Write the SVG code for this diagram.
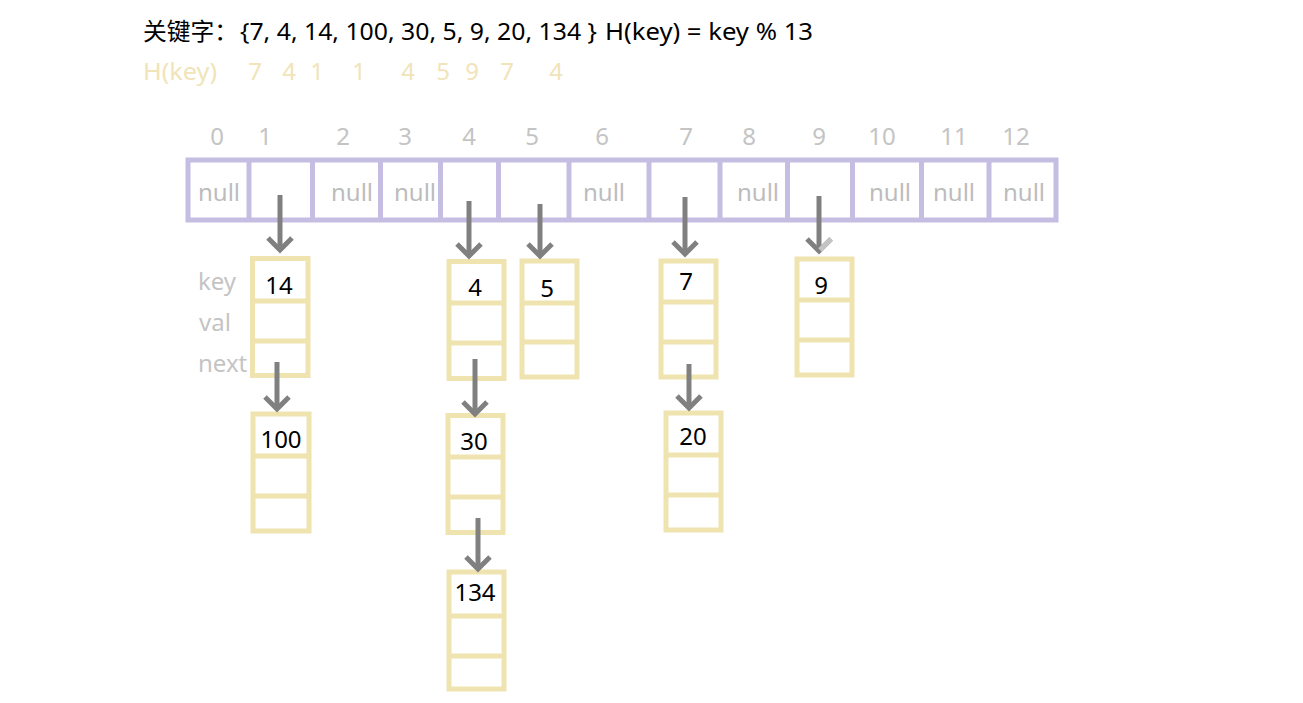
<svg xmlns="http://www.w3.org/2000/svg" width="1303" height="703" viewBox="0 0 1303 703">
<style>
text{font-family:"Noto Sans","Noto Sans CJK SC",sans-serif;font-size:24px}
.title{fill:#000}
.hk{fill:#f0e4b8}
.idx{fill:#c4c4c4;text-anchor:middle}
.nul{fill:#bcbcbc;text-anchor:middle}
.lbl{fill:#c4c4c4}
.cellbox{fill:none;stroke:#c6bde3;stroke-width:5}
.node{fill:#fff;stroke:#efe3b0;stroke-width:5}
.key{fill:#000;text-anchor:middle}
.edge{fill:none;stroke:#808080;stroke-width:5;marker-end:url(#chev)}
</style>
<defs>
<marker id="chev" viewBox="-16 -16 32 32" markerWidth="32" markerHeight="32" refX="0" refY="0" orient="auto" markerUnits="userSpaceOnUse">
<path d="M-12,-12 L0,0 L-12,12" fill="none" stroke="#808080" stroke-width="5" stroke-linejoin="miter"/>
</marker>
</defs>
<rect width="1303" height="703" fill="#fff"/>
<g id="header">
<text class="title" x="143" y="40" textLength="95" lengthAdjust="spacingAndGlyphs">关键字：</text>
<text class="title" x="240" y="40" textLength="357" lengthAdjust="spacingAndGlyphs">{7, 4, 14, 100, 30, 5, 9, 20, 134 }</text>
<text class="title" x="605" y="40" textLength="208" lengthAdjust="spacingAndGlyphs">H(key) = key % 13</text>
<text class="hk" x="143" y="80" textLength="74" lengthAdjust="spacingAndGlyphs">H(key)</text>
<text class="hk" x="255" y="80" text-anchor="middle">7</text>
<text class="hk" x="289" y="80" text-anchor="middle">4</text>
<text class="hk" x="317" y="80" text-anchor="middle">1</text>
<text class="hk" x="359" y="80" text-anchor="middle">1</text>
<text class="hk" x="408" y="80" text-anchor="middle">4</text>
<text class="hk" x="443" y="80" text-anchor="middle">5</text>
<text class="hk" x="472" y="80" text-anchor="middle">9</text>
<text class="hk" x="507" y="80" text-anchor="middle">7</text>
<text class="hk" x="556" y="80" text-anchor="middle">4</text>
</g>
<g id="table">
<g class="indices">
<text class="idx" x="217" y="145">0</text>
<text class="idx" x="265" y="145">1</text>
<text class="idx" x="343" y="145">2</text>
<text class="idx" x="405" y="145">3</text>
<text class="idx" x="469" y="145">4</text>
<text class="idx" x="532" y="145">5</text>
<text class="idx" x="602" y="145">6</text>
<text class="idx" x="686" y="145">7</text>
<text class="idx" x="749" y="145">8</text>
<text class="idx" x="819" y="145">9</text>
<text class="idx" x="882" y="145">10</text>
<text class="idx" x="954" y="145">11</text>
<text class="idx" x="1016" y="145">12</text>
</g>
<rect class="cellbox" x="188" y="160" width="868" height="60"/>
<path class="cellbox" d="M249,160V220 M312.5,160V220 M380.5,160V220 M440.5,160V220 M498.5,160V220 M569,160V220 M649,160V220 M720,160V220 M787.5,160V220 M852.5,160V220 M921.5,160V220 M989,160V220"/>
<text class="nul" x="219" y="201">null</text>
<text class="nul" x="352" y="201">null</text>
<text class="nul" x="415" y="201">null</text>
<text class="nul" x="604" y="201">null</text>
<text class="nul" x="758" y="201">null</text>
<text class="nul" x="890" y="201">null</text>
<text class="nul" x="954" y="201">null</text>
<text class="nul" x="1024" y="201">null</text>
</g>
<g id="labels">
<text class="lbl" x="198" y="290">key</text>
<text class="lbl" x="199" y="331">val</text>
<text class="lbl" x="198" y="372">next</text>
</g>
<g id="node-14">
<rect class="node" x="252.5" y="258.5" width="55.5" height="117"/>
<path class="node" d="M252.5,301H308 M252.5,341H308"/>
<text class="key" x="279" y="294">14</text>
</g>
<g id="node-100">
<rect class="node" x="253" y="414" width="56" height="117"/>
<path class="node" d="M253,456H309 M253,496H309"/>
<text class="key" x="281" y="448">100</text>
</g>
<g id="node-4">
<rect class="node" x="449" y="261.5" width="55" height="117"/>
<path class="node" d="M449,303H504 M449,343H504"/>
<text class="key" x="475" y="296">4</text>
</g>
<g id="node-30">
<rect class="node" x="448" y="415.5" width="55" height="117"/>
<path class="node" d="M448,457H503 M448,497H503"/>
<text class="key" x="474" y="450">30</text>
</g>
<g id="node-134">
<rect class="node" x="449" y="572" width="55" height="117"/>
<path class="node" d="M449,616H504 M449,656H504"/>
<text class="key" x="475" y="601">134</text>
</g>
<g id="node-5">
<rect class="node" x="522" y="261" width="55" height="116"/>
<path class="node" d="M522,303H577 M522,342H577"/>
<text class="key" x="547" y="297">5</text>
</g>
<g id="node-7">
<rect class="node" x="661" y="261" width="55" height="116"/>
<path class="node" d="M661,302H716 M661,342H716"/>
<text class="key" x="686" y="290">7</text>
</g>
<g id="node-20">
<rect class="node" x="666" y="413" width="55" height="117"/>
<path class="node" d="M666,455H721 M666,495H721"/>
<text class="key" x="693" y="445">20</text>
</g>
<g id="node-9">
<rect class="node" x="797" y="259" width="55" height="116"/>
<path class="node" d="M797,300H852 M797,340H852"/>
<text class="key" x="821" y="294">9</text>
</g>
<g id="connectors">
<path class="edge" d="M280,195V250"/>
<path class="edge" d="M277,362V409"/>
<path class="edge" d="M469,201V256"/>
<path class="edge" d="M475,359V414"/>
<path class="edge" d="M478,518V569"/>
<path class="edge" d="M540,204V256"/>
<path class="edge" d="M685,197V254"/>
<path class="edge" d="M689,364V408"/>
<path class="edge" d="M819,196V251"/>
<path d="M820,250L831,239" fill="none" stroke="#c4c4c4" stroke-width="5"/>
</g>
</svg>
